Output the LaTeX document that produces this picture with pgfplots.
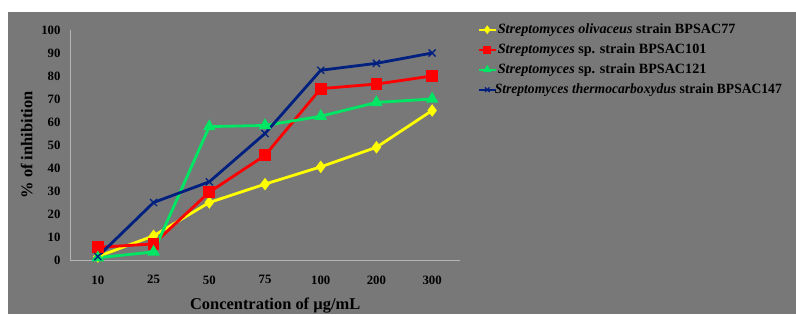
\documentclass[border=0pt]{standalone}
\usepackage{pgfplots}
\pgfplotsset{compat=1.18}
\usepackage{fontspec}
\setmainfont{Liberation Serif}
\definecolor{bggray}{RGB}{120,120,120}
\definecolor{axgray}{RGB}{180,180,180}
\definecolor{cyellow}{RGB}{255,255,0}
\definecolor{cred}{RGB}{255,0,0}
\definecolor{cgreen}{RGB}{0,230,100}
\definecolor{cblue}{RGB}{0,32,128}
\begin{document}
\begin{tikzpicture}[x=1bp,y=1bp]
\clip (0,0) rectangle (796,314);
\fill[white] (0,0) rectangle (796,314);
\fill[bggray] (8,0) rectangle (796,302);
\begin{axis}[
  at={(70bp,54bp)}, anchor=south west,
  scale only axis, width=390bp, height=230bp,
  xmin=-0.5, xmax=6.5, ymin=0, ymax=100,
  xtick={0,...,6}, xticklabels={10,25,50,75,100,200,300},
  ytick={0,10,...,100},
  axis x line=bottom, axis y line=left,
  axis line style={draw=axgray, line width=0.9bp, -},
  major tick length=0pt,
  /pgf/number format/assume math mode=true,
  tick label style={font=\fontsize{12.8}{14}\selectfont\bfseries, text=black},
  xticklabel style={yshift=-12bp},
  yticklabel style={xshift=-6bp},
  xlabel={Concentration of µg/mL},
  xlabel style={at={(axis description cs:0.526,-0.217)}, anchor=base, font=\fontsize{16.5}{18}\selectfont\bfseries},
  ylabel={\% of inhibition},
  ylabel style={at={(axis description cs:-0.111,0.5)}, anchor=center, font=\fontsize{16.5}{18}\selectfont\bfseries},
  clip=false,
  legend style={at={(1.045,1.039)}, anchor=north west, draw=none, fill=none, inner sep=0pt,
    font=\fontsize{14.2}{16}\selectfont\bfseries, row sep=3bp,
    nodes={inner sep=1bp, text height=11bp, text depth=4bp}},
  legend cell align=left,
]
\addplot[cyellow, line width=2.8bp, mark=diamond*, mark size=4bp, mark options={solid},
  legend image post style={line width=2bp, mark size=2.8bp}]
  coordinates {(0,1.5) (1,10.5) (2,25) (3,33) (4,40.5) (5,49) (6,65)};
\addlegendentry{\textit{Streptomyces olivaceus} strain BPSAC77}
\addplot[cred, line width=2.8bp, mark=square*, mark size=4.5bp, mark options={solid},
  legend image post style={line width=2bp, mark size=2.8bp}]
  coordinates {(0,5.5) (1,7) (2,29.5) (3,45.5) (4,74.5) (5,76.5) (6,80)};
\addlegendentry{\textit{Streptomyces} sp. strain BPSAC101}
\addplot[cgreen, line width=2.8bp, mark=triangle*, mark size=4.5bp, mark options={solid},
  legend image post style={line width=2bp, mark size=3bp}]
  coordinates {(0,1) (1,3.5) (2,58) (3,58.5) (4,62.5) (5,68.5) (6,70)};
\addlegendentry{\textit{Streptomyces} sp. strain BPSAC121}
\addplot[cblue, line width=2.8bp, mark=x, mark size=5bp, mark options={solid, line width=1.3bp},
  legend image post style={line width=2bp, mark size=3.2bp}]
  coordinates {(0,1.5) (1,25) (2,34) (3,55) (4,82.5) (5,85.5) (6,90)};
\addlegendentry{\hspace{-3bp}\scalebox{0.96}[1]{\textit{Streptomyces thermocarboxydus} strain BPSAC147}}
\end{axis}
\end{tikzpicture}
\end{document}
